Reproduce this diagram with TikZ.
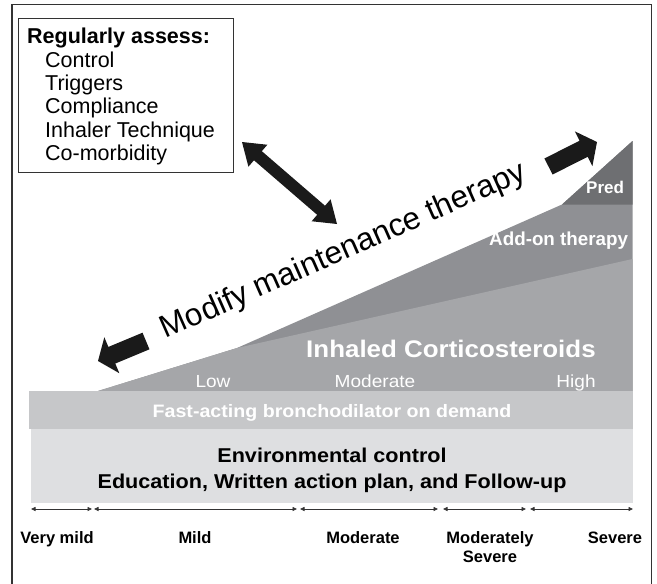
\documentclass[tikz,border=0pt]{standalone}
\usepackage{fontspec}
\setmainfont{Liberation Sans}
\usetikzlibrary{calc,arrows.meta}
\definecolor{predc}{HTML}{6E6F72}
\definecolor{addc}{HTML}{8F9094}
\definecolor{icsc}{HTML}{A5A6A9}
\definecolor{fastc}{HTML}{C6C7C9}
\definecolor{envc}{HTML}{DEDFE1}
\definecolor{arrc}{HTML}{1A1A1A}
\definecolor{linec}{HTML}{333333}
\newcommand\fs[2]{\fontsize{#1}{#2}\selectfont}
% tail, tip, half shaft, half head, head length
\newcommand\myarrow[5]{%
  \coordinate (hbase) at ($(#2)!#5!(#1)$);
  \fill[arrc] ($(#1)!#3!90:(#2)$) -- ($(hbase)!#3!90:(#2)$) -- ($(hbase)!#4!90:(#2)$) -- (#2)
    -- ($(hbase)!#4!-90:(#2)$) -- ($(hbase)!#3!-90:(#2)$) -- ($(#1)!#3!-90:(#2)$) -- cycle;}
\newcommand\mydblarrow[5]{%
  \coordinate (hba) at ($(#1)!#5!(#2)$);
  \coordinate (hbb) at ($(#2)!#5!(#1)$);
  \fill[arrc] (#1) -- ($(hba)!#4!90:(#2)$) -- ($(hba)!#3!90:(#2)$) -- ($(hbb)!#3!90:(#2)$)
    -- ($(hbb)!#4!90:(#2)$) -- (#2) -- ($(hbb)!#4!-90:(#2)$) -- ($(hbb)!#3!-90:(#2)$)
    -- ($(hba)!#3!-90:(#2)$) -- ($(hba)!#4!-90:(#2)$) -- cycle;}
\begin{document}
\begin{tikzpicture}[x=1pt,y=-1pt,
  sev/.style={draw=linec, line width=0.8pt, {Triangle[length=4.5pt,width=4pt]}-{Triangle[length=4.5pt,width=4pt]}},
  sevlabel/.style={inner sep=0pt, font=\fs{16.5}{19.5}\bfseries, align=center},
  whitebold/.style={inner sep=0pt, text=white, font=\bfseries},
  whitereg/.style={inner sep=0pt, text=white, font=\fs{17.5}{20}, xscale=1.09, anchor=base}]
\useasboundingbox (0,0) rectangle (657,584);
% outer frame
\draw[linec, line width=1.5pt] (11.8,585) -- (11.8,4.5) -- (651.5,4.5) -- (651.5,585);
% assess box
\node[draw=linec, line width=0.8pt, anchor=north west, minimum width=215pt, minimum height=154pt, inner sep=0pt] (assess) at (18,18) {};
\node[anchor=north west, inner sep=0pt, align=left, font=\fs{21.5}{23.3}] (assesstext) at (27,28.2)
  {\textbf{Regularly assess:}\\\hspace*{18pt}Control\\\hspace*{18pt}Triggers\\\hspace*{18pt}Compliance\\\hspace*{18pt}Inhaler Technique\\\hspace*{18pt}Co-morbidity};
% ramp
\coordinate (r0) at (98,391);
\coordinate (r1) at (237,348);
\coordinate (r2) at (562,204.5);
\coordinate (r3) at (632.5,141);
\coordinate (r4) at (632.5,391);
\fill[addc] (r0) -- (r1) -- (r2) -- (r3) -- (r4) -- cycle;
\fill[predc] (r2) -- (r3) -- (632.5,204.5) -- cycle;
\fill[icsc] (r0) -- (r1) -- (632.5,259) -- (r4) -- cycle;
% bands
\node[fill=fastc, anchor=north west, minimum width=603.5pt, minimum height=38pt, inner sep=0pt] (fastband) at (29,391) {};
\node[fill=envc, anchor=north west, minimum width=601.5pt, minimum height=74pt, inner sep=0pt] (envbox) at (31,429) {};
% texts in ramp
\node[whitebold, font=\fs{17}{20}\bfseries, anchor=base west] (pred) at (586,193) {Pred};
\node[whitebold, font=\fs{18.8}{22}\bfseries, anchor=base west] (addon) at (489,245) {Add-on therapy};
\node[whitebold, font=\fs{24}{28}\bfseries, xscale=1.08, anchor=base west] (ics) at (306,357) {Inhaled Corticosteroids};
\node[whitereg] (low) at (213,387) {Low};
\node[whitereg] (modics) at (375,387) {Moderate};
\node[whitereg] (high) at (576,387) {High};
\node[whitebold, font=\fs{18}{21}\bfseries, xscale=1.09, anchor=base] (fasttext) at (332,417) {Fast-acting bronchodilator on demand};
\node[inner sep=0pt, font=\fs{20}{26}\bfseries, xscale=1.08, anchor=base] (envtext1) at (332,462) {Environmental control};
\node[inner sep=0pt, font=\fs{20}{26}\bfseries, xscale=1.08, anchor=base] (envtext2) at (332,488) {Education, Written action plan, and Follow-up};
% modify text
\node[inner sep=0pt, font=\fs{31.5}{36}, rotate=23.8, anchor=base] (modify) at (347,259) {Modify maintenance therapy};
% block arrows
\coordinate (da) at (242,142);
\coordinate (db) at (337,224);
\mydblarrow{da}{db}{6pt}{14.5pt}{21pt}
\coordinate (latail) at (146,341);
\coordinate (latip) at (98,361);
\myarrow{latail}{latip}{9pt}{19.5pt}{15pt}
\coordinate (ratail) at (548.5,166.5);
\coordinate (ratip) at (597,142);
\myarrow{ratail}{ratip}{9pt}{19.5pt}{15pt}
% severity scale
\coordinate (s0) at (31,509);
\coordinate (s1a) at (92,509);
\coordinate (s1b) at (94,509);
\coordinate (s2a) at (297,509);
\coordinate (s2b) at (300,509);
\coordinate (s3a) at (438,509);
\coordinate (s3b) at (443,509);
\coordinate (s4a) at (526,509);
\coordinate (s4b) at (530,509);
\coordinate (s5) at (633,509);
\draw[sev] (s0) -- (s1a);
\draw[sev] (s1b) -- (s2a);
\draw[sev] (s2b) -- (s3a);
\draw[sev] (s3b) -- (s4a);
\draw[sev] (s4b) -- (s5);
\node[sevlabel, anchor=base] (vmild) at (57,543) {Very mild};
\node[sevlabel, anchor=base] (mild) at (195,543) {Mild};
\node[sevlabel, anchor=base] (moderate) at (363,543) {Moderate};
\node[sevlabel, anchor=north] (modsev) at (490,531.2) {Moderately\\Severe};
\node[sevlabel, anchor=base] (severe) at (615,543) {Severe};
\end{tikzpicture}
\end{document}
